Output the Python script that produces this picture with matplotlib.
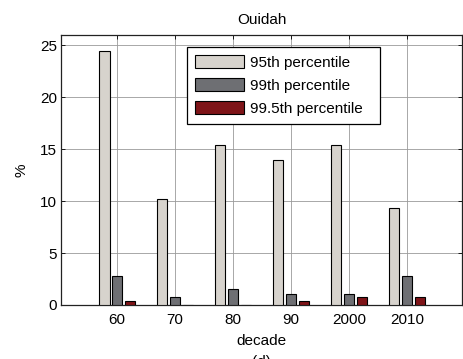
import numpy as np
import matplotlib
matplotlib.use("Agg")
import matplotlib.pyplot as plt

plt.rcParams['font.family'] = ['Liberation Sans', 'DejaVu Sans']

decades = ["60", "70", "80", "90", "2000", "2010"]
p95 = [24.5, 10.25, 15.4, 13.95, 15.4, 9.3]
p99 = [2.75, 0.75, 1.5, 1.1, 1.1, 2.75]
p995 = [0.4, 0.0, 0.0, 0.4, 0.75, 0.75]
series_labels = ["95th percentile", "99th percentile", "99.5th percentile"]
colors = ["#d7d3cd", "#6e6f73", "#7e1418"]

FS = 11

fig = plt.figure(figsize=(4.63, 3.59), dpi=100)
ax = fig.add_axes([61 / 463, 54 / 359, 401 / 463, 270 / 359])

x = np.arange(1, len(decades) + 1)
step = 0.222
width = 0.178
for i, (vals, lab, col) in enumerate(zip([p95, p99, p995], series_labels, colors)):
    ax.bar(x + (i - 1) * step, vals, width=width, color=col, edgecolor="black",
           linewidth=0.8, label=lab, zorder=3)

ax.set_xlim(0.03, 6.95)
ax.set_ylim(0, 26)
ax.set_xticks(x)
ax.set_xticklabels(decades)
ax.set_yticks([0, 5, 10, 15, 20, 25])
ax.tick_params(direction="in", top=True, right=True, labelsize=FS, length=3,
               width=0.6, pad=3)
ax.tick_params(axis="x", pad=6)
ax.grid(True, color="#9a9a9a", linewidth=0.6, zorder=0)
ax.set_axisbelow(True)
for s in ax.spines.values():
    s.set_linewidth(0.9)
    s.set_color("#222222")

ax.set_title("Ouidah", fontsize=FS, pad=8)
ax.set_xlabel("decade", fontsize=FS, labelpad=5)
ax.set_ylabel("%", fontsize=FS, labelpad=8)

leg = ax.legend(loc="upper left",
                bbox_to_anchor=(126 / 401, 1 - 87 / 270, 193 / 401, 75 / 270),
                mode="expand", fontsize=FS, handlelength=3.2, handleheight=0.9,
                fancybox=False, framealpha=1, edgecolor="black", borderpad=0.55,
                labelspacing=0.55, handletextpad=0.4, borderaxespad=0)
leg.get_frame().set_linewidth(0.9)

fig.text(261.5 / 463, 4 / 359, "(d)", ha="center", va="top", fontsize=FS)

fig.savefig("out.png", dpi=100)
